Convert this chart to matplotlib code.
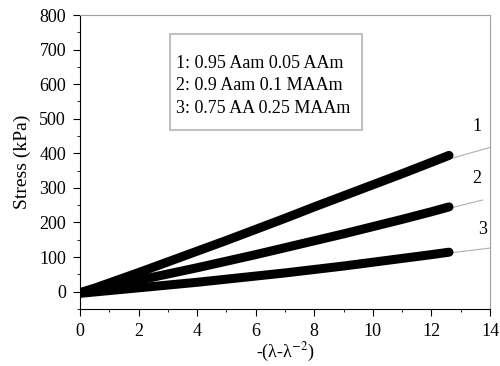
import matplotlib.pyplot as plt
from matplotlib.patches import Rectangle

plt.rcParams['font.family'] = ['Liberation Serif', 'DejaVu Serif']
plt.rcParams['mathtext.fontset'] = 'stix'

strain = [0, 0.5, 1, 2, 3, 4, 5, 6, 7, 8, 9, 10, 11, 12, 12.6]
s1 = [-3, 10, 25, 55, 86, 117, 148, 180, 212, 245, 277, 309, 341, 374, 394]
s2 = [-4, 5, 14, 33, 51, 69, 88, 107, 127, 147, 167, 188, 209, 231, 245]
s3 = [-5, -1, 3, 11, 19, 27, 36, 45, 54, 64, 74, 85, 96, 107, 114]

# fitted lines (only the part past the data is visible)
fit_x = [11, 14]
fit1 = [345, 417]
fit2_x = [11, 13.75]
fit2 = [207, 265]
fit3 = [95, 126]

labels = ['1', '2', '3']
label_x = [13.55, 13.55, 13.75]
label_y = [478, 328, 180]
legend_lines = ['1: 0.95 Aam 0.05 AAm', '2: 0.9 Aam 0.1 MAAm', '3: 0.75 AA 0.25 MAAm']

fig = plt.figure(figsize=(5, 3.66), dpi=100)
ax = fig.add_axes([0.16, 0.156, 0.82, 0.803])

ax.plot(fit_x, fit1, color='#b0b0b0', lw=0.8, zorder=1)
ax.plot(fit2_x, fit2, color='#b0b0b0', lw=0.8, zorder=1)
ax.plot(fit_x, fit3, color='#b0b0b0', lw=0.8, zorder=1)

for s in (s1, s2, s3):
    ax.plot(strain, s, color='black', lw=6.5, solid_capstyle='round', zorder=2)

for t, lx, ly in zip(labels, label_x, label_y):
    ax.text(lx, ly, t, fontsize=13, ha='center', va='center')

# legend box drawn as a plain rectangle with text inside
ax.add_patch(Rectangle((0.22, 0.608), 0.468, 0.328, transform=ax.transAxes,
                       fc='white', ec='#c0c0c0', lw=1.5, zorder=3))
for i, t in enumerate(legend_lines):
    ax.text(0.235, 0.834 - i * 0.0755, t, transform=ax.transAxes, fontsize=13,
            va='center', ha='left', zorder=4)

ax.set_xlim(0, 14)
ax.set_ylim(-50, 800)
ax.set_xticks(range(0, 15, 2))
ax.set_xticks(range(0, 15), minor=True)
ax.set_yticks(range(0, 801, 100))
ax.set_yticks(range(-50, 801, 50), minor=True)
ax.tick_params(which='both', direction='out', labelsize=13, top=False, right=False, pad=5)
ax.tick_params(which='major', length=5)
ax.tick_params(which='minor', length=2.5)
ax.spines['top'].set_color('#a0a0a0')
ax.spines['right'].set_color('#a0a0a0')

ax.set_xlabel('-(λ-λ$^{-2}$)', fontsize=13, labelpad=1)
ax.set_ylabel('Stress (kPa)', fontsize=14, labelpad=6)

plt.savefig('out.png', dpi=100)
